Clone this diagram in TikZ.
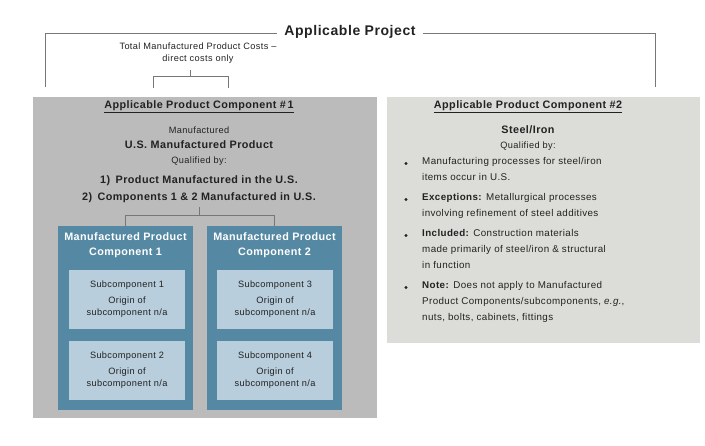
\documentclass[tikz,border=0pt]{standalone}
\usepackage{fontspec}
\setmainfont[LetterSpace=4]{Liberation Sans}
\definecolor{panelA}{HTML}{BBBBBB}
\definecolor{panelB}{HTML}{DCDCD8}
\definecolor{blueA}{HTML}{5588A3}
\definecolor{blueB}{HTML}{B8CEDC}
\definecolor{txt}{HTML}{222222}
\definecolor{brk}{HTML}{777777}
\begin{document}
\begin{tikzpicture}[x=1pt,y=-1pt,
  every node/.style={text=txt,inner sep=0pt},
  sm/.style={font=\fontsize{9.2}{11}\selectfont},
  bd/.style={font=\bfseries\fontsize{10.8}{12}\selectfont},
  brline/.style={draw=brk,line width=0.8pt},
  blue/.style={fill=blueA,draw=none},
  sub/.style={fill=blueB,draw=none},
  wt/.style={text=white,font=\bfseries\fontsize{10.8}{15}\selectfont,align=center}]
\useasboundingbox (0,0) rectangle (705,445);
% panels
\fill[panelA] (33,97) rectangle (377,418);
\fill[panelB] (387,97) rectangle (700,343);
% title and brackets
\node[font=\bfseries\fontsize{14}{16}\selectfont] (title) at (350,32) {Applicable Project};
\coordinate (tl) at (45,87); \coordinate (tr) at (655,87);
\draw[brline] (tl) -- (45,33) -- ([xshift=-7pt]title.west |- 0,33);
\draw[brline] (tr) -- (655,33) -- ([xshift=7pt]title.east |- 0,33);
\node[align=center,font=\fontsize{9.2}{12}\selectfont] (tot) at (198,53) {Total Manufactured Product Costs –\\direct costs only};
\draw[brline] (153,88) -- (153,76) -- (228,76) -- (228,88);
\draw[brline] (190,70) -- (190,76);
% left panel texts
\node[bd] (h1) at (199,107) {\underline{Applicable Product Component \#\,1}};
\node[sm] (m1) at (199,130) {Manufactured};
\node[bd] (m2) at (199,145) {U.S. Manufactured Product};
\node[sm] (m3) at (199,161) {Qualified by:};
\node[bd] (m4) at (199,181) {1)\enspace Product Manufactured in the U.S.};
\node[bd] (m5) at (199,198) {2)\enspace Components 1 \& 2 Manufactured in U.S.};
% blue boxes
\path[blue] (58,226) rectangle (193,410);
\path[blue] (207,226) rectangle (342,410);
\node[wt] (c1) at (125.5,245) {Manufactured Product\\Component 1};
\node[wt] (c2) at (274.5,245) {Manufactured Product\\Component 2};
\draw[brline] (199,207) -- (199,215);
\draw[brline] (125.5,226) -- (125.5,215) -- (274.5,215) -- (274.5,226);
% subcomponents
\foreach \x/\n/\a/\b in {69/s1/270/1,69/s2/341/2,217/s3/270/3,217/s4/341/4}{
  \path[sub] (\x,\a) rectangle ++(116,59);
  \node[sm] (\n) at (\x+58,\a+15) {Subcomponent \b};
  \node[sm] at (\x+58,\a+31) {Origin of};
  \node[sm] at (\x+58,\a+43) {subcomponent n/a};
}
% right panel
\node[bd] (h2) at (528,107) {\underline{Applicable Product Component \#2}};
\node[bd] (st) at (528,130) {Steel/Iron};
\node[sm] (q2) at (528,146) {Qualified by:};
\begin{scope}[every node/.style={text=txt,inner sep=0pt,anchor=north west,align=left,font=\fontsize{9.8}{16}\selectfont}]
\node (b1) at (422,157) {Manufacturing processes for steel/iron\\items occur in U.S.};
\node (b2) at (422,193) {\textbf{Exceptions:} Metallurgical processes\\involving refinement of steel additives};
\node (b3) at (422,229) {\textbf{Included:} Construction materials\\made primarily of steel/iron \& structural\\in function};
\node (b4) at (422,281) {\textbf{Note:} Does not apply to Manufactured\\Product Components/subcomponents, \textit{e.g.},\\nuts, bolts, cabinets, fittings};
\end{scope}
\foreach \y in {163.5,199.5,235.5,287.5}{\fill[txt] (406,\y) circle (1.7);}
\end{tikzpicture}
\end{document}
